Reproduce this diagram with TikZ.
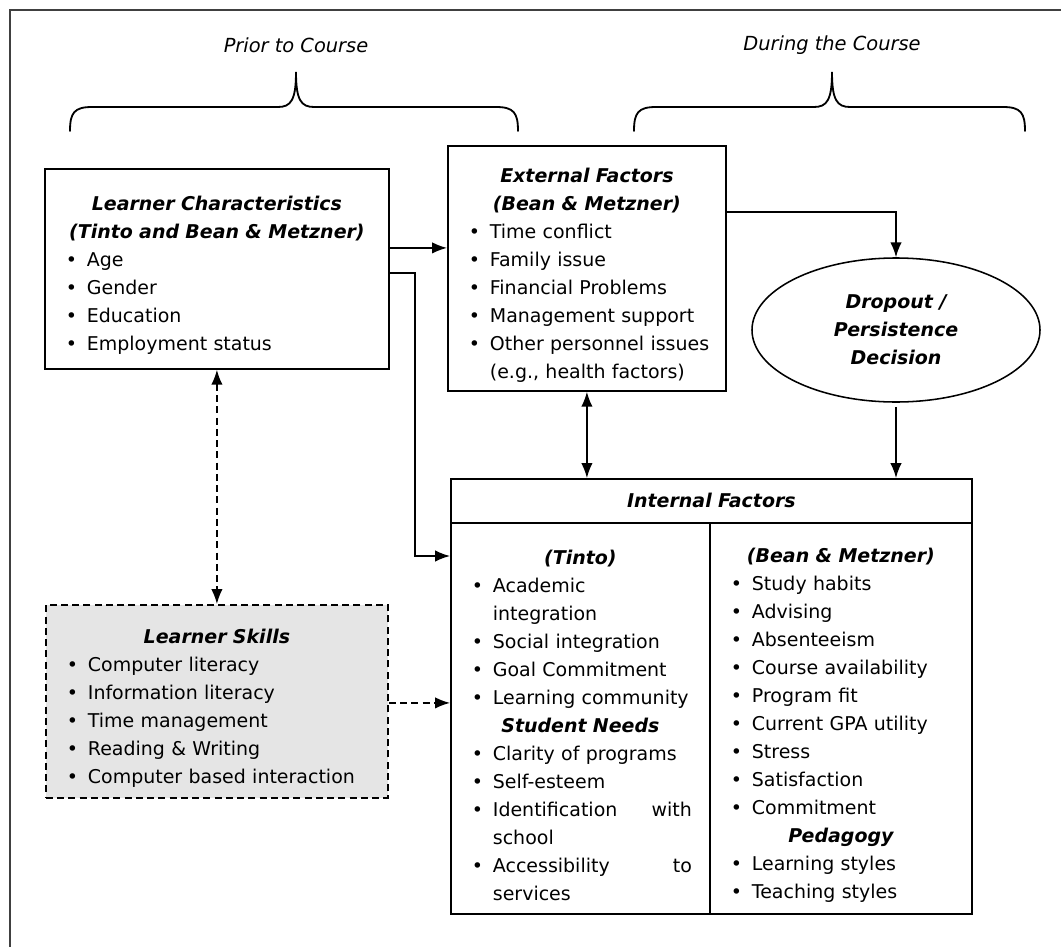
\documentclass[tikz,border=0pt]{standalone}
\usepackage{fontspec}
\setmainfont{DejaVu Sans}[BoldFont={DejaVu Sans Bold}, ItalicFont={DejaVu Sans Oblique}, BoldItalicFont={DejaVu Sans Bold Oblique}]
\usetikzlibrary{arrows.meta,shapes.geometric}

\newlength{\px}
\setlength{\px}{0.025cm}
\newcommand{\boxhead}[1]{\par{\centering\bfseries\itshape #1\par}}
\newcommand{\bitem}[1]{\par\noindent\hspace*{15\px}\makebox[21\px][l]{\textbullet}#1}
\newcommand{\bcont}[1]{\par\noindent\hspace*{36\px}#1}

\tikzset{
  box/.style={draw, line width=1.3pt, inner xsep=6*\px, inner ysep=0pt, align=left, anchor=north west},
  arr/.style={line width=1pt, -{Latex[length=10.5pt, width=8pt]}},
  arrs/.style={line width=1pt, {Latex[length=10.5pt, width=8pt]}-{Latex[length=10.5pt, width=8pt]}},
  dashline/.style={dash pattern=on 5pt off 3pt},
  brc/.style={line width=1.3pt, line cap=round},
  phase/.style={font=\fontsize{13.8pt}{17pt}\selectfont\itshape},
  bi/.style={font=\fontsize{13.5pt}{19.9pt}\selectfont\bfseries\itshape}
}

\begin{document}
\begin{tikzpicture}[x=0.025cm, y=-0.025cm, font=\fontsize{13.5pt}{19.9pt}\selectfont]
  \useasboundingbox (0,0) rectangle (1061,947);
  \clip (0,0) rectangle (1061,947);
  \draw[line width=1.8pt, black!75] (10,10) rectangle (1080,970);

  % phases
  \node[phase] (prior) at (296,45) {Prior to Course};
  \node[phase] (during) at (832,45) {During the Course};
  \draw[brc] (70,131) .. controls (70,113) and (74,107) .. (92,107) -- (278,107)
    .. controls (291,107) and (296,100) .. (296,72)
    .. controls (296,100) and (301,107) .. (314,107) -- (496,107)
    .. controls (514,107) and (518,113) .. (518,131);
  \draw[brc] (634,131) .. controls (634,113) and (638,107) .. (656,107) -- (814,107)
    .. controls (827,107) and (832,100) .. (832,72)
    .. controls (832,100) and (837,107) .. (850,107) -- (1003,107)
    .. controls (1021,107) and (1025,113) .. (1025,131);

  % boxes
  \node[box, text width=332*\px, minimum height=200*\px] (lc) at (44,168) {%
    \boxhead{Learner Characteristics\\(Tinto and Bean \& Metzner)}%
    \bitem{Age}
    \bitem{Gender}
    \bitem{Education}
    \bitem{Employment status}};
  \node[box, text width=266*\px, minimum height=245*\px] (ef) at (447,145) {%
    \boxhead{External Factors\\(Bean \& Metzner)}%
    \bitem{Time conflict}
    \bitem{Family issue}
    \bitem{Financial Problems}
    \bitem{Management support}
    \bitem{Other personnel issues}
    \bcont{(e.g., health factors)}};
  \node[draw, ellipse, line width=1.1pt, bi, align=center, minimum width=288*\px, minimum height=144*\px] (dec) at (896,330)
    {Dropout /\\Persistence\\Decision};
  \node[box, dashline, fill=black!10, text width=330*\px, minimum height=193*\px] (ls) at (45,604) {%
    \boxhead{Learner Skills}%
    \bitem{Computer literacy}
    \bitem{Information literacy}
    \bitem{Time management}
    \bitem{Reading \& Writing}
    \bitem{Computer based interaction}};
  \node[box, bi, align=center, text width=509*\px, minimum height=44*\px] (ifh) at (450,478) {Internal Factors};
  \node[box, text width=247*\px, minimum height=391*\px] (tinto) at (450,522) {%
    \boxhead{(Tinto)}%
    \bitem{Academic}
    \bcont{integration}
    \bitem{Social integration}
    \bitem{Goal Commitment}
    \bitem{Learning community}
    \boxhead{Student Needs}%
    \bitem{Clarity of programs}
    \bitem{Self-esteem}
    \bitem{\makebox[199\px][l]{Identification\hfill with}}
    \bcont{school}
    \bitem{\makebox[199\px][l]{Accessibility\hfill to}}
    \bcont{services}};
  \node[box, text width=250*\px, minimum height=391*\px] (bean) at (709,522) {%
    \boxhead{(Bean \& Metzner)}%
    \bitem{Study habits}
    \bitem{Advising}
    \bitem{Absenteeism}
    \bitem{Course availability}
    \bitem{Program fit}
    \bitem{Current GPA utility}
    \bitem{Stress}
    \bitem{Satisfaction}
    \bitem{Commitment}
    \boxhead{Pedagogy}%
    \bitem{Learning styles}
    \bitem{Teaching styles}};

  % connectors
  \coordinate (elbow) at (415,556);
  \draw[arr] ([yshift=21*\px]lc.east) -- ([yshift=21*\px]lc.east -| ef.west);
  \draw[arr] ([yshift=-4*\px]lc.east) -| (elbow) -- (elbow -| tinto.west);
  \draw[arr] ([yshift=56.5*\px]ef.east) -| (dec.north);
  \draw[arr, shorten <=4*\px] (dec.south) -- (dec.south |- ifh.north);
  \draw[arrs] (ef.south) -- (ef.south |- ifh.north);
  \draw[arrs, dashline] (lc.south) -- (ls.north);
  \draw[arr, dashline] ([yshift=-1.5*\px]ls.east) -- ([yshift=-1.5*\px]ls.east -| tinto.west);
\end{tikzpicture}
\end{document}
